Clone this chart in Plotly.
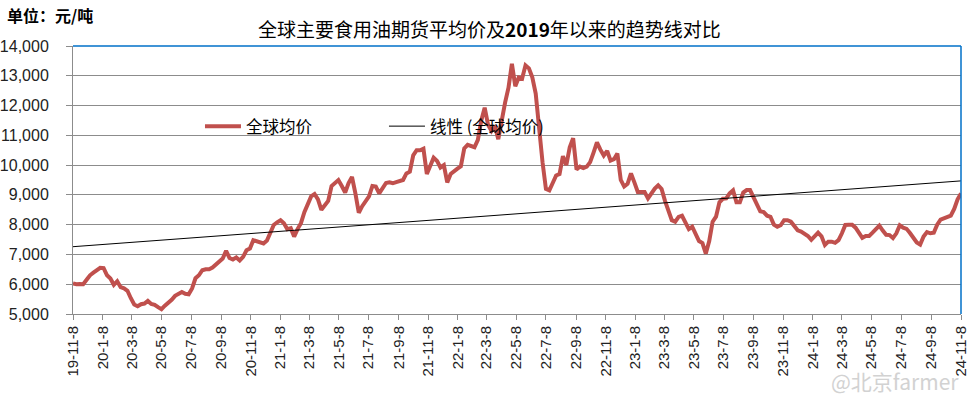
import numpy as np
import pandas as pd
import plotly.graph_objects as go

# ---------------- data ----------------
title_text = "全球主要食用油期货平均价及<b>2019</b>年以来的趋势线对比"
unit_text = "单位：元/吨"
series_name = "全球均价"
trend_name = "线性 (全球均价)"
watermark_text = "@北京farmer"

start_date = "2019-11-08"   # weekly readings from 19-11-8 to 24-11-8

price = [
    6030, 6000, 6010, 6000, 6150, 6300, 6390, 6490, 6550, 6540,
    6300, 6190, 5980, 6100, 5900, 5860, 5780, 5530, 5320, 5260,
    5330, 5350, 5440, 5340, 5310, 5230, 5160, 5280, 5370, 5480,
    5610, 5680, 5740, 5680, 5660, 5860, 6200, 6300, 6470, 6500,
    6500, 6560, 6660, 6760, 6860, 7120, 6880, 6830, 6900, 6800,
    6920, 7140, 7200, 7480,
    7450, 7400, 7370, 7470, 7720, 7990, 8080, 8150, 8050, 7850,
    7880, 7600, 7850, 8050, 8420, 8650, 8950, 9030, 8850, 8500,
    8680, 8800, 9300, 9390, 9500, 9300, 9080, 9400, 9600, 9050,
    8400, 8620, 8800, 8950, 9300, 9280, 9050, 9250, 9400, 9420,
    9390, 9430, 9450, 9500, 9720, 9780,
    10330, 10500, 10500, 10550, 9700,
    9970, 10250, 10140, 9920, 10000, 9420, 9700, 9810, 9880, 9960,
    10560, 10680, 10650, 10600, 10850, 11500, 11930, 11350, 11150, 11320,
    10870, 11540, 12100, 12600, 13400, 12650, 12940, 12900, 13350, 13250,
    12950, 12400, 11100, 10100, 9200, 9150, 9400, 9650, 9700, 10300,
    10000, 10600, 10900, 9850, 9950, 9900, 9950, 10100, 10420, 10760,
    10520, 10320, 10480, 10150, 10200,
    10390, 9500, 9280, 9370, 9720, 9420, 9100, 9100, 9100, 8880,
    9050, 9210, 9320, 9200, 8800, 8480, 8150, 8100, 8260, 8300,
    8100, 7850, 7930, 7720, 7450, 7380, 7030, 7450, 8100, 8270,
    8750, 8870, 8880, 9050, 9150, 8750, 8750, 9080, 9160, 9160,
    8900, 8700, 8450, 8420, 8300, 8260, 8000, 7930, 7980, 8150,
    8150, 8100, 7950,
    7810, 7770, 7700, 7620, 7490, 7590, 7730, 7610, 7320, 7430,
    7430, 7390, 7480, 7710, 7990, 8000, 8000, 7900, 7700, 7560,
    7620, 7620, 7730, 7850, 7970, 7800, 7660, 7650, 7550, 7710,
    7980, 7900, 7860, 7720, 7560, 7400, 7330, 7600, 7750, 7710,
    7730, 8000, 8170, 8210, 8260, 8300, 8530, 8850, 9050,
]

# linear trend line values at the first and last date
trend_values = [7260, 9470]

tick_labels = [
    "19-11-8", "20-1-8", "20-3-8", "20-5-8", "20-7-8", "20-9-8", "20-11-8",
    "21-1-8", "21-3-8", "21-5-8", "21-7-8", "21-9-8", "21-11-8",
    "22-1-8", "22-3-8", "22-5-8", "22-7-8", "22-9-8", "22-11-8",
    "23-1-8", "23-3-8", "23-5-8", "23-7-8", "23-9-8", "23-11-8",
    "24-1-8", "24-3-8", "24-5-8", "24-7-8", "24-9-8", "24-11-8",
]
y_ticks = [5000, 6000, 7000, 8000, 9000, 10000, 11000, 12000, 13000, 14000]

# ---------------- derived ----------------
dates = pd.date_range(start_date, periods=len(price), freq="7D")


def parse_label(s):
    yy, m, d = (int(p) for p in s.split("-"))
    return pd.Timestamp(2000 + yy, m, d)


tick_vals = [parse_label(s) for s in tick_labels]
trend_x = [dates[0], dates[-1]]

RED = "#C0504D"
GRID = "#8C8C8C"
BLUE = "#0070C8"
CJK = "Noto Sans CJK SC"
LAT = "Liberation Sans, Arial"

fig = go.Figure()
fig.add_trace(go.Scatter(
    x=dates, y=price, mode="lines", name=series_name,
    line=dict(color=RED, width=4),
))
fig.add_trace(go.Scatter(
    x=trend_x, y=trend_values, mode="lines", name=trend_name,
    line=dict(color="#000000", width=1),
))

fig.update_layout(
    width=975, height=399,
    margin=dict(l=73, r=14, t=46, b=85, autoexpand=False),
    paper_bgcolor="white", plot_bgcolor="white",
    showlegend=True,
    legend=dict(
        orientation="h", x=0.143, y=0.70, xanchor="left", yanchor="middle",
        font=dict(family=CJK, size=16.5, color="#000000"),
        bgcolor="rgba(0,0,0,0)", entrywidth=133, itemwidth=36,
        tracegroupgap=0,
    ),
    title=dict(
        text=title_text, x=0.502, xanchor="center", y=0.925, yanchor="middle",
        font=dict(family=CJK, size=19, color="#000000"),
    ),
    xaxis=dict(
        type="date",
        range=[dates[0], dates[-1]],
        tickvals=tick_vals, ticktext=tick_labels,
        tickangle=-90,
        ticks="outside", ticklen=5, tickcolor=GRID, tickwidth=1,
        showgrid=False, zeroline=False,
        showline=True, linecolor=GRID, linewidth=1,
        tickfont=dict(family=LAT, size=15, color="#222222"),
        automargin=False,
    ),
    yaxis=dict(
        range=[5000, 14000],
        tickvals=y_ticks, tickformat=",",
        ticks="outside", ticklen=6, tickcolor=GRID, tickwidth=1,
        showgrid=True, gridcolor=GRID, gridwidth=1,
        zeroline=False,
        showline=True, linecolor=GRID, linewidth=1,
        tickfont=dict(family=LAT, size=16, color="#222222"),
        ticklabelstandoff=14,
        automargin=False,
    ),
    annotations=[
        dict(text="<b>" + unit_text + "</b>", xref="paper", yref="paper",
             x=-0.077, y=1.115, xanchor="left", yanchor="middle", showarrow=False,
             font=dict(family=CJK, size=16, color="#000000")),
        dict(text=watermark_text, xref="paper", yref="paper",
             x=1.0, y=-0.25, xanchor="right", yanchor="middle", showarrow=False,
             font=dict(family=CJK, size=21, color="#D2D2D2")),
    ],
    shapes=[
        dict(type="line", xref="paper", yref="paper", x0=0, x1=1, y0=1, y1=1,
             line=dict(color=BLUE, width=1.5)),
        dict(type="line", xref="paper", yref="paper", x0=1, x1=1, y0=0, y1=1,
             line=dict(color=BLUE, width=1.5)),
    ],
)

fig.write_html("out.html", config={"displayModeBar": False},
               post_script="document.body.style.margin='0';")
